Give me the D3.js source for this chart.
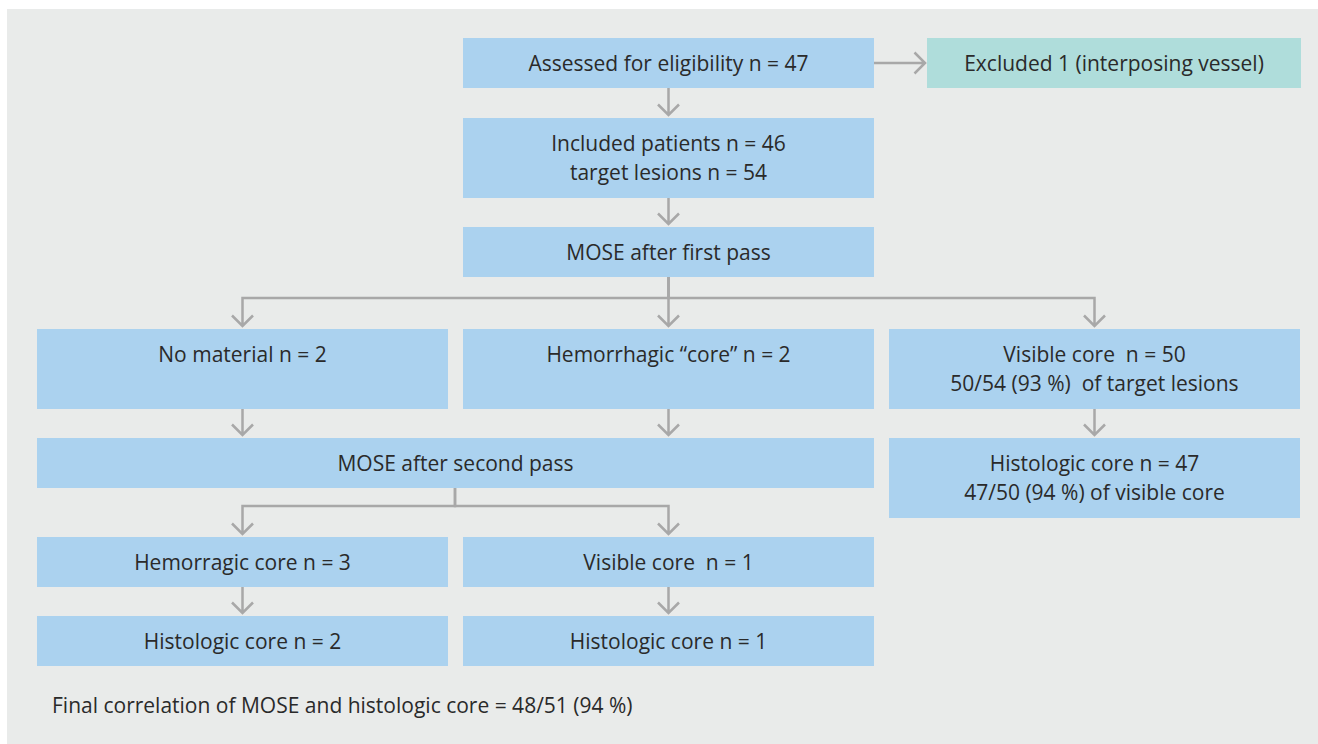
<!DOCTYPE html>
<head>
    <title>MOSE flowchart</title>
    <meta charset="utf-8" />
</head>

<style>
    body {
        margin: 0;
        background-color: #ffffff;
    }

    .box {
        fill: #abd2ef;
    }

    .box.excl {
        fill: #afdddb;
    }

    .label {
        font-family: "Open Sans";
        font-size: 21px;
        fill: #2a2a2a;
        text-anchor: middle;
        dominant-baseline: central;
        white-space: pre;
    }

    .link {
        fill: none;
        stroke: #a8a8a8;
        stroke-width: 2.5px;
    }
</style>

<body>
    <svg id="flow" width="1318" height="744"></svg>
    <script src="https://d3js.org/d3.v7.min.js"></script>

    <script>
        // node ids and their text (one entry per line)
        var nodeIds = ["assessed", "excluded", "included", "mose1", "nomat", "hemo", "visible",
            "mose2", "histo47", "hemorragic", "visible1", "histo2", "histo1"];
        var nodeLines = [
            ["Assessed for eligibility n = 47"],
            ["Excluded 1 (interposing vessel)"],
            ["Included patients n = 46", "target lesions n = 54"],
            ["MOSE after first pass"],
            ["No material n = 2"],
            ["Hemorrhagic \u201ccore\u201d n = 2"],
            ["Visible core  n = 50", "50/54 (93 %)  of target lesions"],
            ["MOSE after second pass"],
            ["Histologic core n = 47", "47/50 (94 %) of visible core"],
            ["Hemorragic core n = 3"],
            ["Visible core  n = 1"],
            ["Histologic core n = 2"],
            ["Histologic core n = 1"]
        ];
        // which column (0-2) and row each node sits in
        var nodeCols = [1, "x", 1, 1, 0, 1, 2, "01", 2, 0, 1, 0, 1];
        var nodeRows = [0, 0, 1, 2, 3, 3, 3, 4, 4, 5, 5, 6, 6];
        var footnote = "Final correlation of MOSE and histologic core = 48/51 (94 %)";

        // links: [from, to]
        var links = [["assessed", "excluded"], ["assessed", "included"], ["included", "mose1"],
            ["mose1", "nomat"], ["mose1", "hemo"], ["mose1", "visible"],
            ["nomat", "mose2"], ["hemo", "mose2"], ["visible", "histo47"],
            ["mose2", "hemorragic"], ["mose2", "visible1"],
            ["hemorragic", "histo2"], ["visible1", "histo1"]];

        var svg = d3.select("#flow");

        svg.append("rect")
            .attr("x", 7).attr("y", 9)
            .attr("width", 1311).attr("height", 735)
            .attr("fill", "#e9ebea");

        var x = d3.scaleBand().domain([0, 1, 2]).range([37, 1300]).paddingInner(15 / 426);
        var rowTop = [38, 118, 227, 329, 438, 537, 616];
        var rowH = [50, 80, 50, 80, 50, 50, 50];

        var nodes = nodeIds.map(function(id, i) {
            var c = nodeCols[i], r = nodeRows[i];
            var n = { id: id, lines: nodeLines[i], y: rowTop[r], h: rowH[r] };
            if (c === "x") { n.x = 927; n.w = 374; n.excl = true; }
            else if (c === "01") { n.x = x(0); n.w = x(1) + x.bandwidth() - x(0); }
            else { n.x = x(c); n.w = x.bandwidth(); }
            if (id === "histo47") n.h = 80;
            n.cx = n.x + n.w / 2;
            return n;
        });
        var byId = {};
        nodes.forEach(function(n) { byId[n.id] = n; });

        var g = svg.selectAll(".node")
            .data(nodes)
            .enter().append("g")
            .attr("class", "node");

        g.append("rect")
            .attr("class", function(d) { return d.excl ? "box excl" : "box"; })
            .attr("x", function(d) { return d.x; })
            .attr("y", function(d) { return d.y; })
            .attr("width", function(d) { return d.w; })
            .attr("height", function(d) { return d.h; });

        g.selectAll("text")
            .data(function(d) {
                return d.lines.map(function(t, i) { return { t: t, x: d.cx, y: d.y + 25 + i * 29 }; });
            })
            .enter().append("text")
            .attr("class", "label")
            .attr("x", function(d) { return d.x; })
            .attr("y", function(d) { return d.y; })
            .text(function(d) { return d.t; });

        // arrows
        var head = 10.5, gap = 3;
        function down(px, py) {
            return "M" + (px - head) + "," + (py - head) + "L" + px + "," + py + "L" + (px + head) + "," + (py - head);
        }
        var paths = links.map(function(l) {
            var a = byId[l[0]], b = byId[l[1]];
            if (b.excl) {
                var yy = a.y + a.h / 2, tx = b.x - 2;
                return "M" + (a.x + a.w) + "," + yy + "H" + tx +
                    "M" + (tx - head) + "," + (yy - head) + "L" + tx + "," + yy + "L" + (tx - head) + "," + (yy + head);
            }
            var tipY = b.y - gap;
            if (l[0] === "mose1" || l[0] === "mose2") {
                var sx = l[0] === "mose2" ? 455 : a.cx;
                var my = l[0] === "mose2" ? 506 : 298;
                return "M" + sx + "," + (a.y + a.h) + "V" + my + "H" + b.cx + "V" + tipY + down(b.cx, tipY);
            }
            var px = (l[1] === "mose2") ? a.cx : b.cx;
            return "M" + px + "," + (a.y + a.h) + "V" + tipY + down(px, tipY);
        });

        svg.selectAll(".link")
            .data(paths)
            .enter().append("path")
            .attr("class", "link")
            .attr("d", function(d) { return d; });

        svg.append("text")
            .attr("x", 52)
            .attr("y", 705)
            .attr("font-family", "Open Sans")
            .attr("font-size", "21px")
            .attr("fill", "#2a2a2a")
            .attr("dominant-baseline", "central")
            .text(footnote);
    </script>
</body>
